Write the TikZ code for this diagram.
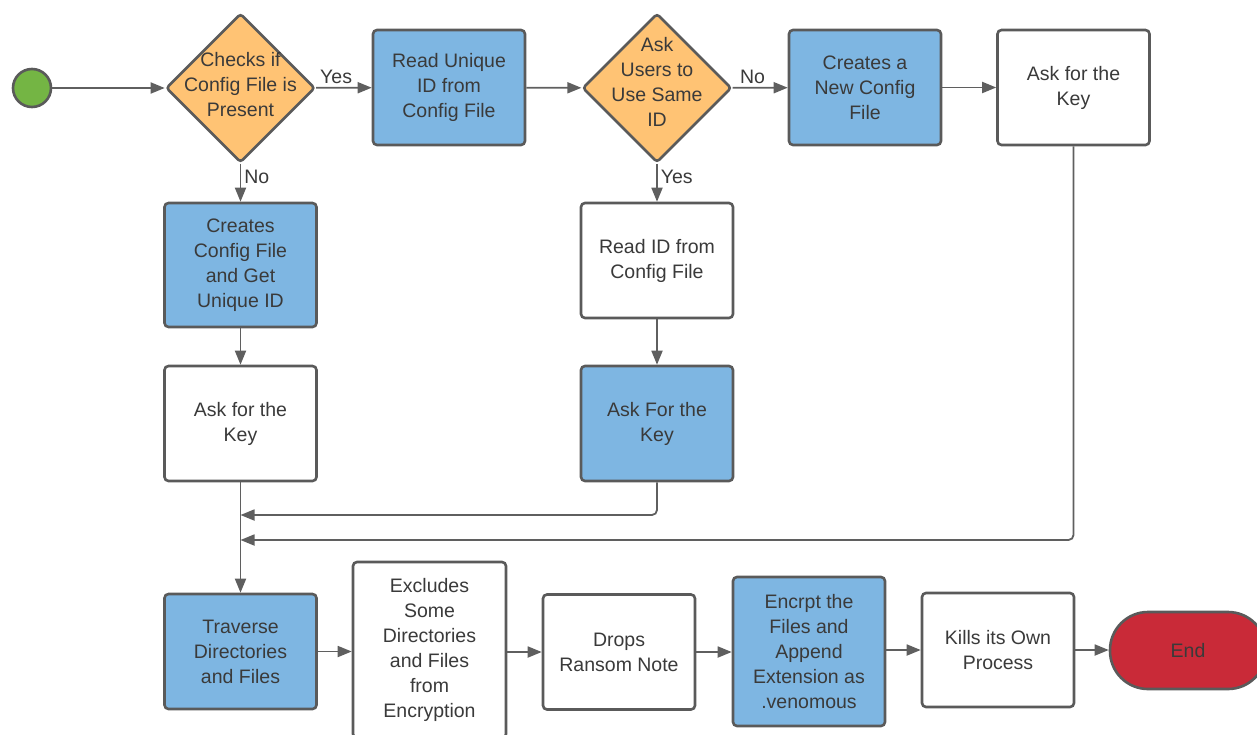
\documentclass[tikz,border=0pt]{standalone}
\usepackage{fontspec}
\setmainfont{Liberation Sans}
\usetikzlibrary{shapes.geometric,arrows.meta}
\definecolor{bfill}{HTML}{7EB6E2}
\definecolor{ofill}{HTML}{FFC374}
\definecolor{gfill}{HTML}{74B544}
\definecolor{rfill}{HTML}{C92A38}
\definecolor{bord}{HTML}{5A5A5A}
\definecolor{txt}{HTML}{3A3A3A}
\definecolor{lne}{HTML}{5F5F5F}
\begin{document}
\begin{tikzpicture}[x=1pt,y=-1pt,
  txtstyle/.style={text=txt, font=\fontsize{19.5}{25}\selectfont},
  box/.style={txtstyle, draw=bord, line width=2.6pt, rounded corners=4pt, minimum width=152pt, minimum height=115pt, align=center, inner sep=0pt, fill=white},
  bluebox/.style={box, fill=bfill},
  dmd/.style={diamond, aspect=1, draw=bord, line width=2.6pt, fill=ofill, minimum width=149pt, minimum height=149pt, inner sep=0pt, rounded corners=3pt},
  dtext/.style={txtstyle, align=center},
  arr/.style={draw=lne, line width=1.8pt, -{Triangle[length=14pt,width=11pt]}},
  lbl/.style={txtstyle, inner sep=3pt}
]
\useasboundingbox (0,0) rectangle (1257,734);
\clip (0,0) rectangle (1257,734);

% top row
\node[circle, draw=bord, line width=2.6pt, fill=gfill, minimum size=38pt, inner sep=0pt] (start) at (32,88) {};
\node[dmd] (d1) at (240.5,88) {};
\node[dtext] (d1t) at (240.5,85) {Checks if\\Config File is\\Present};
\node[bluebox] (rui) at (449,87.5) {Read Unique\\ID from\\Config File};
\node[dmd] (d2) at (657,88) {};
\node[dtext] (d2t) at (657,82) {Ask\\Users to\\Use Same\\ID};
\node[bluebox] (cnc) at (865,87.5) {Creates a\\New Config\\File};
\node[box] (ak3) at (1073.5,87.5) {Ask for the\\Key};

% left column
\node[bluebox, minimum height=124pt] (ccf) at (240.5,265) {Creates\\Config File\\and Get\\Unique ID};
\node[box] (ak1) at (240.5,423.5) {Ask for the\\Key};
% middle column
\node[box] (rid) at (657,260.5) {Read ID from\\Config File};
\node[bluebox] (ak2) at (657,423.5) {Ask For the\\Key};

% bottom row
\node[bluebox] (trav) at (240.5,651.5) {Traverse\\Directories\\and Files};
\node[box, minimum width=153pt, minimum height=176pt] (excl) at (429.5,650) {Excludes\\Some\\Directories\\and Files\\from\\Encryption};
\node[box] (drops) at (619,652) {Drops\\Ransom Note};
\node[bluebox, minimum height=149pt] (enc) at (809,651.5) {Encrpt the\\Files and\\Append\\Extension as\\.venomous};
\node[box, minimum height=114pt] (kills) at (998,650) {Kills its Own\\Process};
\node[txtstyle, draw=bord, line width=2.6pt, fill=rfill, minimum width=156pt, minimum height=77pt, rounded corners=38pt, inner sep=0pt] (endn) at (1188,650.5) {End};

\coordinate (j1) at (240.5,515);
\coordinate (j2) at (240.5,540);

% connectors
\draw[arr] (start) -- (d1);
\draw[arr] (d1) -- node[lbl, above, pos=0.36] {Yes} (rui);
\draw[arr] (rui) -- (d2);
\draw[arr] (d2) -- node[lbl, above, pos=0.36] {No} (cnc);
\draw[arr] (cnc) -- (ak3);
\draw[arr] (d1) -- node[lbl, right, pos=0.34] {No} (ccf);
\draw[arr] (ccf) -- (ak1);
\draw[arr] (d2) -- node[lbl, right, pos=0.34] {Yes} (rid);
\draw[arr] (rid) -- (ak2);
\draw[arr, rounded corners=5pt] (ak2.south) |- (j1);
\draw[arr, rounded corners=5pt] (ak3.south) |- (j2);
\draw[arr] (ak1) -- (trav);
\draw[arr] (trav.east) -- (trav.east -| excl.west);
\draw[arr] (drops.west -| excl.east) -- (drops.west);
\draw[arr] (drops.east) -- (drops.east -| enc.west);
\draw[arr] (kills.west -| enc.east) -- (kills.west);
\draw[arr] (kills.east) -- (kills.east -| endn.west);
\end{tikzpicture}
\end{document}
